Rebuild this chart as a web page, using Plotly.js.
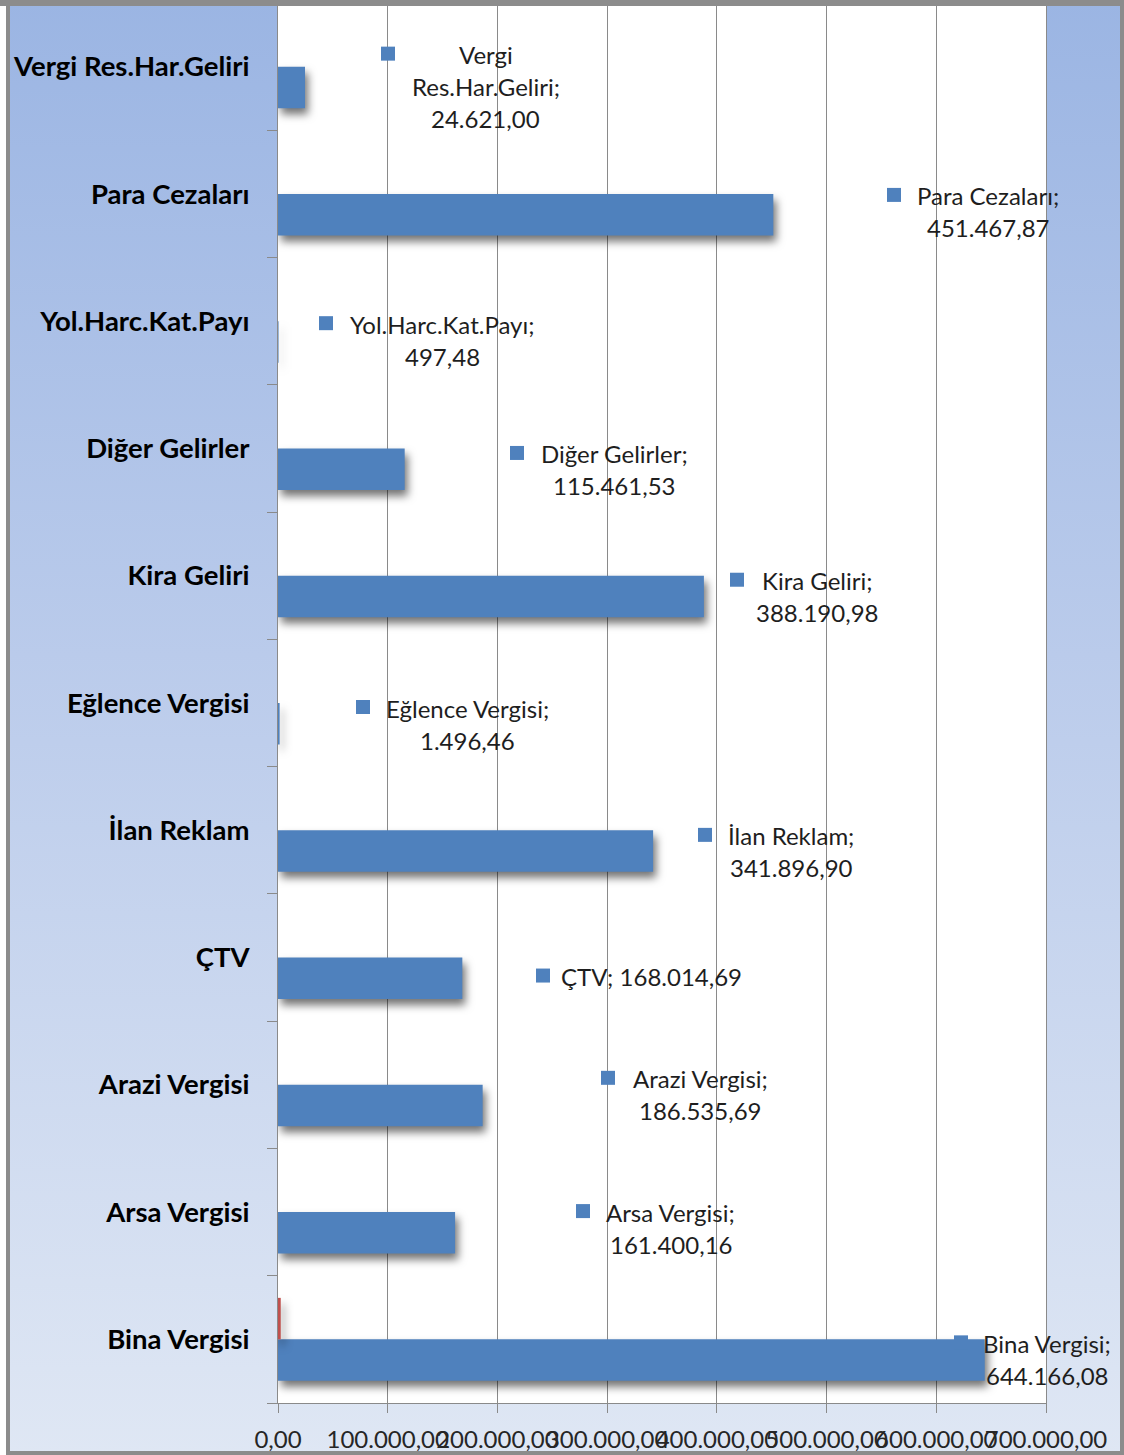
<!DOCTYPE html>
<html>
<head>
<meta charset="utf-8">
<script src="https://cdn.plot.ly/plotly-3.0.1.min.js"></script>
<style>
html,body{margin:0;padding:0;background:#fff;}
#wrap{position:relative;width:1124px;height:1455px;overflow:hidden;}
#chart{position:absolute;left:0;top:0;width:1124px;height:1455px;background:linear-gradient(to bottom,#9bb5e3 0%,#bacbeb 45%,#dfe7f4 100%);}
.fr{position:absolute;background:#8c8c8c;pointer-events:none;}
.barlayer .point path{filter:drop-shadow(3px 6px 4px rgba(0,0,0,0.55));}
</style>
</head>
<body>
<div id="wrap">
  <div id="chart"></div>
  <div class="fr" style="left:0;top:0;width:1124px;height:6px;"></div>
  <div style="position:absolute;left:0;top:6px;width:6px;height:1449px;background:#fff;"></div>
  <div class="fr" style="left:6px;top:6px;width:4px;height:1449px;"></div>
  <div class="fr" style="left:1120px;top:0;width:4px;height:1455px;"></div>
  <div class="fr" style="left:6px;top:1451px;width:1118px;height:4px;"></div>
</div>
<script>
// ---- data (bottom to top, as the category axis draws them) ----
const categories = ["Bina Vergisi","Arsa Vergisi","Arazi Vergisi","ÇTV","İlan Reklam","Eğlence Vergisi","Kira Geliri","Diğer Gelirler","Yol.Harc.Kat.Payı","Para Cezaları","Vergi Res.Har.Geliri"];
const gelirler = [644166.08,161400.16,186535.69,168014.69,341896.90,1496.46,388190.98,115461.53,497.48,451467.87,24621.00];
const ikinciSeri = [2500,0,0,0,0,0,0,0,0,0,0];
const xMax = 700000;
const xStep = 100000;

// ---- label layout (manually placed data labels, as in the source) ----
const labelWrap   = ["two","two","two","one","two","two","two","two","two","two","three"];
const labelSquareX = [616150,271620,294400,235160,382810,71090,411980,211460,37370,555080,93880];
const labelTextX   = [700910,358200,384640,340880,467580,172270,491280,306250,150390,647140,189580];
const labelDy      = [4,0,-6,19,5.6,5,5,5.5,3,2,-12];
const lineGap = 32;

const BLUE = "#4f81bd", RED = "#c0504d", GRID = "#8a8a8a";

function fmtTR(v){
  const parts = v.toFixed(2).split(".");
  parts[0] = parts[0].replace(/\B(?=(\d{3})+(?!\d))/g, ".");
  return parts[0] + "," + parts[1];
}

const annotations = [];
const shapes = [];
categories.forEach((cat, i) => {
  const val = fmtTR(gelirler[i]);
  let lines;
  if (labelWrap[i] === "one") lines = [cat + "; " + val];
  else if (labelWrap[i] === "three") {
    const k = cat.indexOf(" ");
    lines = [cat.slice(0, k), cat.slice(k + 1) + ";", val];
  } else lines = [cat + ";", val];
  lines.forEach((ln, j) => {
    annotations.push({
      xref: "paper", yref: "y", x: labelTextX[i] / xMax, y: i,
      yshift: -(labelDy[i] + j * lineGap),
      xanchor: "center", yanchor: "middle", showarrow: false, text: ln,
      font: {family: "Lato, sans-serif", size: 24, color: "#1e1e1e"}
    });
  });
  const cy = -(labelDy[i] - 1);
  shapes.push({
    type: "rect", xref: "x", yref: "y", xsizemode: "pixel", ysizemode: "pixel",
    xanchor: labelSquareX[i], yanchor: i, x0: 0, x1: 14, y0: cy - 7, y1: cy + 7,
    fillcolor: BLUE, line: {width: 0}, layer: "above"
  });
});

const traces = [
  {type: "bar", orientation: "h", y: categories, x: gelirler, marker: {color: BLUE, line: {width: 0}}, hoverinfo: "none"},
  {type: "bar", orientation: "h", y: categories, x: ikinciSeri, marker: {color: RED, line: {width: 0}}, hoverinfo: "none"}
];

const layout = {
  width: 1124, height: 1455,
  margin: {l: 278, r: 78, t: 3, b: 52, pad: 0},
  paper_bgcolor: "rgba(0,0,0,0)", plot_bgcolor: "#ffffff",
  separators: ",.",
  barmode: "group", bargap: 0.348, bargroupgap: 0,
  showlegend: false,
  font: {family: "Lato, sans-serif", color: "#1e1e1e"},
  xaxis: {
    range: [0, xMax], tick0: 0, dtick: xStep, tickformat: ",.2f", tickangle: 0,
    showgrid: true, gridcolor: GRID, gridwidth: 1, zeroline: false,
    showline: true, linecolor: GRID, linewidth: 1,
    ticks: "outside", ticklen: 9, tickcolor: GRID, tickwidth: 1,
    ticklabelstandoff: 6,
    tickfont: {family: "Lato, sans-serif", size: 24, color: "#262626"}
  },
  yaxis: {
    type: "category", categoryorder: "array", categoryarray: categories,
    showgrid: false, zeroline: false, showline: true, linecolor: GRID, linewidth: 1, mirror: true,
    ticks: "outside", tickson: "boundaries", ticklen: 10, tickcolor: GRID, tickwidth: 1,
    ticklabelstandoff: 22,
    tickfont: {family: "Lato, sans-serif", size: 27.5, color: "#000000", weight: "bold"}
  },
  annotations: annotations,
  shapes: shapes
};

Plotly.newPlot("chart", traces, layout, {staticPlot: true, displayModeBar: false});
</script>
</body>
</html>
